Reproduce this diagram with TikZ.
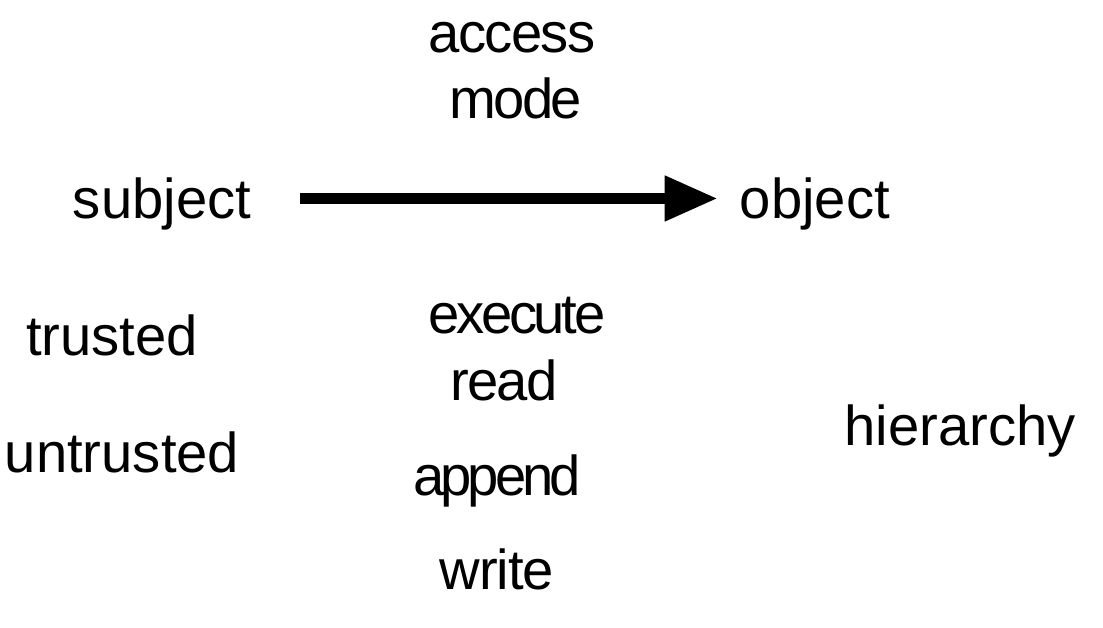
\documentclass[tikz,border=0pt]{standalone}
\usepackage{fontspec}
\setmainfont{Liberation Sans}
\usepackage{tikz}
\usetikzlibrary{arrows.meta}
\def\LblSize{\fontsize{32}{38}\selectfont}
\newcommand{\tightword}[2]{{\addfontfeature{LetterSpace=#1}#2}}

\tikzset{
  lbl/.style={inner sep=0pt, anchor=base, font=\LblSize},
  bigarrow/.style={line width=0.22cm, -{Triangle[length=1.06cm, width=0.86cm]}}
}

\begin{document}
\begin{tikzpicture}[x=0.02cm, y=-0.02cm]
  \useasboundingbox (0,0) rectangle (1103,627);
  % top row
  \node[lbl] (access) at (512,52) {\tightword{-3}{access}};
  \node[lbl] (mode) at (516,118) {\tightword{-5}{mode}};
  \node[lbl] (subject) at (162,218) {subject};
  \node[lbl] (object) at (815,218) {object};
  \draw[bigarrow, shorten <=0.97cm, shorten >=0.44cm]
    ([yshift=0.1cm]subject.east) -- ([yshift=0.1cm]object.west);
  % lower rows
  \node[lbl] (trusted) at (112,355) {trusted};
  \node[lbl] (untrusted) at (122,472) {untrusted};
  \node[lbl] (execute) at (517,333) {\tightword{-6}{execute}};
  \node[lbl] (read) at (504,400) {\tightword{-3}{read}};
  \node[lbl] (append) at (497,495) {\tightword{-7}{append}};
  \node[lbl] (write) at (497,589) {\tightword{-2}{write}};
  \node[lbl] (hierarchy) at (960,445) {hierarchy};
\end{tikzpicture}
\end{document}
